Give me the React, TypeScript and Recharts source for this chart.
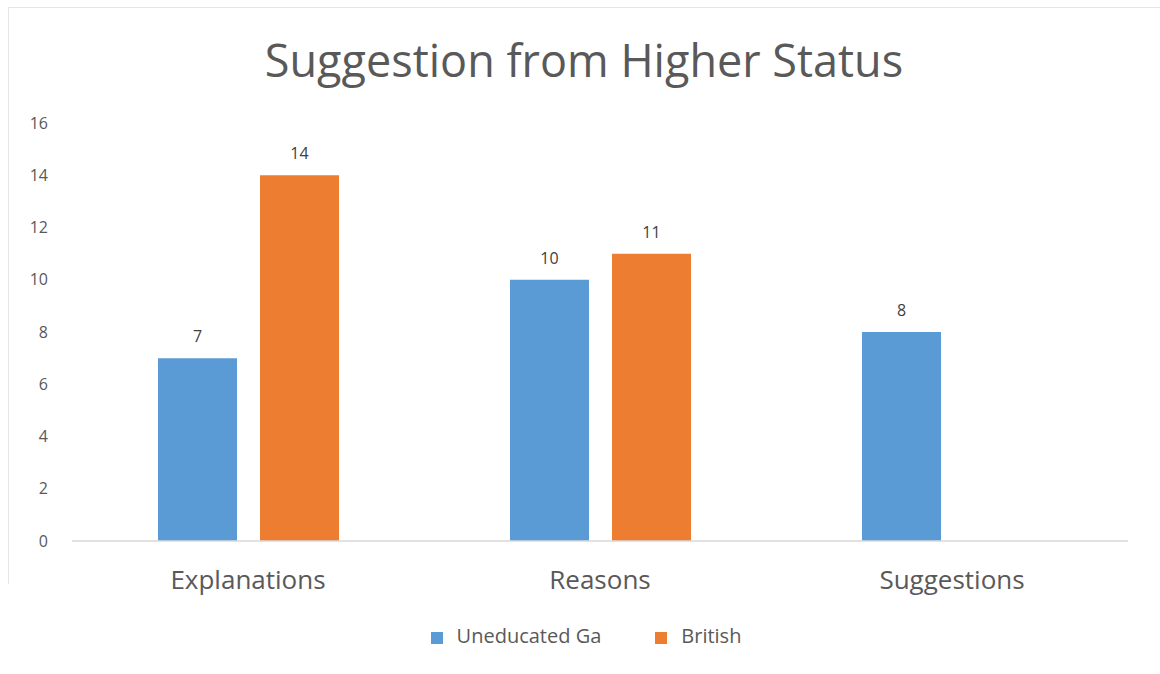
import { BarChart, Bar, XAxis, YAxis, Legend, LabelList } from 'recharts'

const categories = ['Explanations', 'Reasons', 'Suggestions']
const uneducatedGa = [7, 10, 8]
const british: (number | null)[] = [14, 11, null]
const yTicks = [0, 2, 4, 6, 8, 10, 12, 14, 16]

const FONT = '"Open Sans", "Noto Sans", sans-serif'
const BLUE = '#5B9BD5'
const ORANGE = '#ED7D31'

export default function App() {
  const data = categories.map((name, i) => ({
    name,
    ga: uneducatedGa[i],
    british: british[i],
  }))

  return (
    <div style={{ position: 'absolute', left: 0, top: 0, width: 1160, height: 674, background: '#fff', fontFamily: FONT }}>
      {/* faint frame of the original slide */}
      <div style={{ position: 'absolute', left: 8, top: 7, width: 1152, height: 576, borderTop: '1px solid #e6e6e6', borderLeft: '1px solid #e6e6e6' }} />
      <div style={{ position: 'absolute', left: 0, top: 29, width: 1168, textAlign: 'center', fontSize: 45, color: '#595959' }}>
        Suggestion from Higher Status
      </div>
      <BarChart
        width={1160}
        height={674}
        data={data}
        margin={{ top: 123, right: 32, bottom: 0, left: 0 }}
        barGap={23}
        barSize={79}
        style={{ position: 'absolute', left: 0, top: 0 }}
      >
        <XAxis
          dataKey="name"
          axisLine={{ stroke: '#d9d9d9', strokeWidth: 1.5 }}
          tickLine={false}
          tickMargin={24}
          height={105}
          tick={{ fontSize: 26, fill: '#595959', fontFamily: FONT }}
        />
        <YAxis
          width={72}
          domain={[0, 16]}
          ticks={yTicks}
          axisLine={false}
          tickLine={false}
          tickMargin={18}
          tick={{ fontSize: 16, fill: '#595959', fontFamily: FONT }}
        />
        <Legend
          verticalAlign="bottom"
          iconType="square"
          iconSize={12}
          itemSorter={null}
          wrapperStyle={{ fontSize: 20, fontFamily: FONT, top: 622, left: 49, lineHeight: '28px' }}
          formatter={(v: string) => <span style={{ color: '#595959', marginRight: 44, marginLeft: 10 }}>{v}</span>}
        />
        <Bar dataKey="ga" name="Uneducated Ga" fill={BLUE} isAnimationActive={false}>
          <LabelList dataKey="ga" position="top" offset={16} style={{ fontSize: 16, fill: '#404040', fontFamily: FONT }} />
        </Bar>
        <Bar dataKey="british" name="British" fill={ORANGE} isAnimationActive={false}>
          <LabelList dataKey="british" position="top" offset={16} style={{ fontSize: 16, fill: '#404040', fontFamily: FONT }} />
        </Bar>
      </BarChart>
    </div>
  )
}
